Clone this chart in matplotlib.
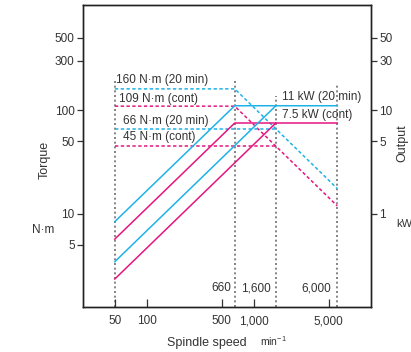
import matplotlib
matplotlib.use("Agg")
import matplotlib.pyplot as plt
from matplotlib.ticker import FixedLocator, FixedFormatter, NullLocator

plt.rcParams['font.family'] = ['Liberation Sans', 'DejaVu Sans']
plt.rcParams['mathtext.default'] = 'regular'

# ---- data ----
blue = '#1fb2e8'
pink = '#e5157f'
gray = '#707070'
txt = '#333333'

# torque (N·m) dashed lines: speed points / torque values
t20_speed = [50, 660, 6000]
t20_torque = [160, 160, 17.5]
tcont_speed = [50, 660, 6000]
tcont_torque = [109, 109, 11.9]
t20hi_speed = [50, 1600]
t20hi_torque = [66, 66]
tconthi_speed = [50, 1600]
tconthi_torque = [45, 45]

# output (kW) solid lines
p20_speed = [50, 660, 6000]
p20_power = [0.84, 11, 11]
pcont_speed = [50, 660, 6000]
pcont_power = [0.57, 7.5, 7.5]
p20hi_speed = [50, 1600]
p20hi_power = [0.345, 11]
pconthi_speed = [50, 1600]
pconthi_power = [0.235, 7.5]

# vertical guide lines: speed, top torque
guide_speed = [50, 660, 1600, 6000]
guide_top = [190, 190, 136, 182]

xticks = [50, 100, 500, 1000, 5000]
xticklabels = ['50', '100', '500', '1,000', '5,000']
yticks = [5, 10, 50, 100, 300, 500]
yticklabels = ['5', '10', '50', '100', '300', '500']
y2ticks = [1, 5, 10, 30, 50]
y2ticklabels = ['1', '5', '10', '30', '50']

torque_labels = ['160 N·m (20 min)', '109 N·m (cont)', '66 N·m (20 min)', '45 N·m (cont)']
torque_label_pos = [(51, 195), (54.7, 128.5), (59.3, 78.9), (59.3, 54.9)]
power_labels = ['11 kW (20 min)', '7.5 kW (cont)']
power_label_pos = [(1815, 132.6), (1815, 88.9)]
speed_labels = ['660', '1,600', '6,000']
speed_label_pos = [(619, 1.91, 'right'), (1044, 1.91, 'center'), (3838, 1.91, 'center')]

ylim = (1.27, 1030)
xlim = (25.2, 12400)

fig = plt.figure(figsize=(4.11, 3.52), dpi=100)
ax = fig.add_axes([83/411, 1-306.7/352, (371-83)/411, (306.7-5)/352])
ax.set_xscale('log')
ax.set_yscale('log')
ax.set_xlim(*xlim)
ax.set_ylim(*ylim)

ax2 = ax.twinx()
ax2.set_yscale('log')
ax2.set_ylim(ylim[0]/10, ylim[1]/10)

lw = 1.1
for s, top in zip(guide_speed, guide_top):
    ax.plot([s, s], [ylim[0], top], color=gray, lw=1.2, ls=(0, (1.2, 1.6)), zorder=1)

dash = (0, (2.2, 1.6))
ax.plot(t20_speed, t20_torque, color=blue, lw=lw, ls=dash)
ax.plot(tcont_speed, tcont_torque, color=pink, lw=lw, ls=dash)
ax.plot(t20hi_speed, t20hi_torque, color=blue, lw=lw, ls=dash)
ax.plot(tconthi_speed, tconthi_torque, color=pink, lw=lw, ls=dash)

ax2.plot(p20_speed, p20_power, color=blue, lw=lw)
ax2.plot(pcont_speed, pcont_power, color=pink, lw=lw)
ax2.plot(p20hi_speed, p20hi_power, color=blue, lw=lw)
ax2.plot(pconthi_speed, pconthi_power, color=pink, lw=lw)

fs = 8.5
for lab, (x, y) in zip(torque_labels, torque_label_pos):
    ax.text(x, y, lab, fontsize=fs, color=txt, ha='left', va='center')
for lab, (x, y) in zip(power_labels, power_label_pos):
    ax.text(x, y, lab, fontsize=fs, color=txt, ha='left', va='center')
for lab, (x, y, ha) in zip(speed_labels, speed_label_pos):
    ax.text(x, y, lab, fontsize=fs, color=txt, ha=ha, va='center')

ax.xaxis.set_major_locator(FixedLocator(xticks))
ax.xaxis.set_major_formatter(FixedFormatter(xticklabels))
ax.xaxis.set_minor_locator(NullLocator())
ax.yaxis.set_major_locator(FixedLocator(yticks))
ax.yaxis.set_major_formatter(FixedFormatter(yticklabels))
ax.yaxis.set_minor_locator(NullLocator())
ax2.yaxis.set_major_locator(FixedLocator(y2ticks))
ax2.yaxis.set_major_formatter(FixedFormatter(y2ticklabels))
ax2.yaxis.set_minor_locator(NullLocator())

ax.tick_params(axis='x', direction='in', length=6, width=0.9, colors='#333333',
               labelsize=fs, pad=6, labelcolor=txt)
ax.tick_params(axis='y', direction='out', length=4, width=0.9, colors='#333333',
               labelsize=fs, pad=2, labelcolor=txt)
ax2.tick_params(axis='y', direction='out', length=4, width=0.9, colors='#333333',
                labelsize=fs, pad=2, labelcolor=txt)
for a in (ax, ax2):
    for sp in a.spines.values():
        sp.set_color('#222222')
        sp.set_linewidth(1.0)

fig.text(45/411, 1-160/352, 'Torque', rotation=90, fontsize=9, color=txt, ha='center', va='center')
fig.text(43/411, 1-230/352, 'N·m', fontsize=fs, color=txt, ha='center', va='center')
fig.text(402/411, 1-143/352, 'Output', rotation=90, fontsize=9, color=txt, ha='center', va='center')
fig.text(396/411, 1-224/352, 'kW', fontsize=8, color=txt, ha='left', va='center')
fig.text(167/411, 1-346/352, 'Spindle speed', fontsize=9, color=txt, ha='left', va='baseline')
fig.text(260/411, 1-346/352, r'min$^{-1}$', fontsize=7.5, color=txt, ha='left', va='baseline')

fig.savefig('out.png', dpi=100)
